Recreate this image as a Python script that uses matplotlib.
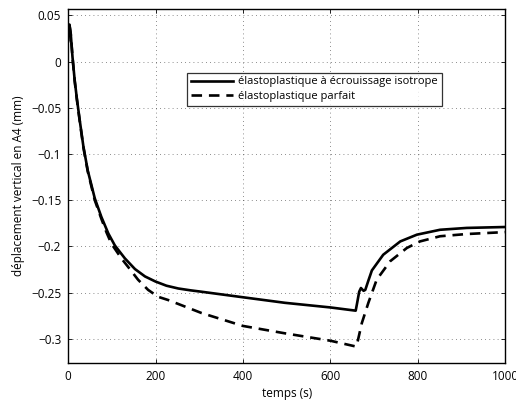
import matplotlib

matplotlib.use("Agg")
import matplotlib.pyplot as plt

# solid: élastoplastique à écrouissage isotrope
t_iso = [0, 1, 3, 6, 10, 15, 20, 27, 35, 45, 61, 76, 92, 107, 130, 153, 176,
         200, 225, 252, 280, 305, 400, 496, 600, 658, 661, 666, 670, 676, 680,
         687, 695, 721, 760, 798, 851, 912, 1000]
u_iso = [0.022, 0.035, 0.040, 0.030, 0.005, -0.020, -0.040, -0.065, -0.092,
         -0.118, -0.148, -0.168, -0.186, -0.199, -0.213, -0.2245, -0.2325,
         -0.238, -0.2425, -0.2455, -0.2475, -0.249, -0.255, -0.261, -0.266,
         -0.2695, -0.262, -0.249, -0.245, -0.248, -0.247, -0.237, -0.226,
         -0.209, -0.1946, -0.1873, -0.182, -0.180, -0.179]

# dashed: élastoplastique parfait
t_parf = [0, 1, 3, 6, 10, 15, 20, 27, 35, 45, 61, 76, 88, 99, 122, 137, 160,
          183, 206, 229, 267, 305, 400, 496, 600, 656, 660, 672, 687, 706,
          737, 775, 805, 851, 912, 1000]
u_parf = [0.022, 0.035, 0.040, 0.030, 0.005, -0.021, -0.041, -0.066, -0.093,
          -0.119, -0.150, -0.170, -0.185, -0.197, -0.213, -0.222, -0.236,
          -0.247, -0.2545, -0.258, -0.265, -0.272, -0.286, -0.294, -0.302,
          -0.308, -0.308, -0.283, -0.261, -0.236, -0.216, -0.2017, -0.1946,
          -0.189, -0.1866, -0.1845]

labels = ["élastoplastique à écrouissage isotrope", "élastoplastique parfait"]
yticks = [0.05, 0, -0.05, -0.1, -0.15, -0.2, -0.25, -0.3]
ytick_labels = ["0.05", "0", "\u22120.05", "\u22120.1", "\u22120.15",
                "\u22120.2", "\u22120.25", "\u22120.3"]
xticks = [0, 200, 400, 600, 800, 1000]

plt.rcParams["font.family"] = ["Open Sans", "DejaVu Sans"]

fig = plt.figure(figsize=(5.16, 4.01), dpi=100)
ax = fig.add_axes([0.132, 0.095, 0.847, 0.883])

ax.plot(t_iso, u_iso, color="black", linewidth=1.9, label=labels[0])
ax.plot(t_parf, u_parf, color="black", linewidth=1.9, dashes=(4, 2.6),
        label=labels[1])

ax.set_xlim(0, 1000)
ax.set_ylim(-0.326, 0.057)
ax.set_xticks(xticks)
ax.set_xticklabels([str(x) for x in xticks])
ax.set_yticks(yticks)
ax.set_yticklabels(ytick_labels)
ax.tick_params(direction="in", top=True, right=True, labelsize=8.5,
               length=3, width=0.6, pad=5)
ax.grid(True, color="black", linestyle=(0, (1, 4)), linewidth=0.6, alpha=0.6)
for s in ax.spines.values():
    s.set_linewidth(1.0)

ax.set_xlabel("temps (s)", fontsize=8.5, labelpad=3)
ax.set_ylabel("déplacement vertical en A4 (mm)", fontsize=8.5, labelpad=4)

leg = ax.legend(loc="upper left", bbox_to_anchor=(0.272, 0.82), fontsize=8,
                frameon=True, fancybox=False, edgecolor="black",
                handlelength=3.8, borderpad=0.35, labelspacing=0.3,
                handletextpad=0.45, borderaxespad=0)
leg.get_frame().set_linewidth(0.9)

fig.savefig("out.png", dpi=100)
